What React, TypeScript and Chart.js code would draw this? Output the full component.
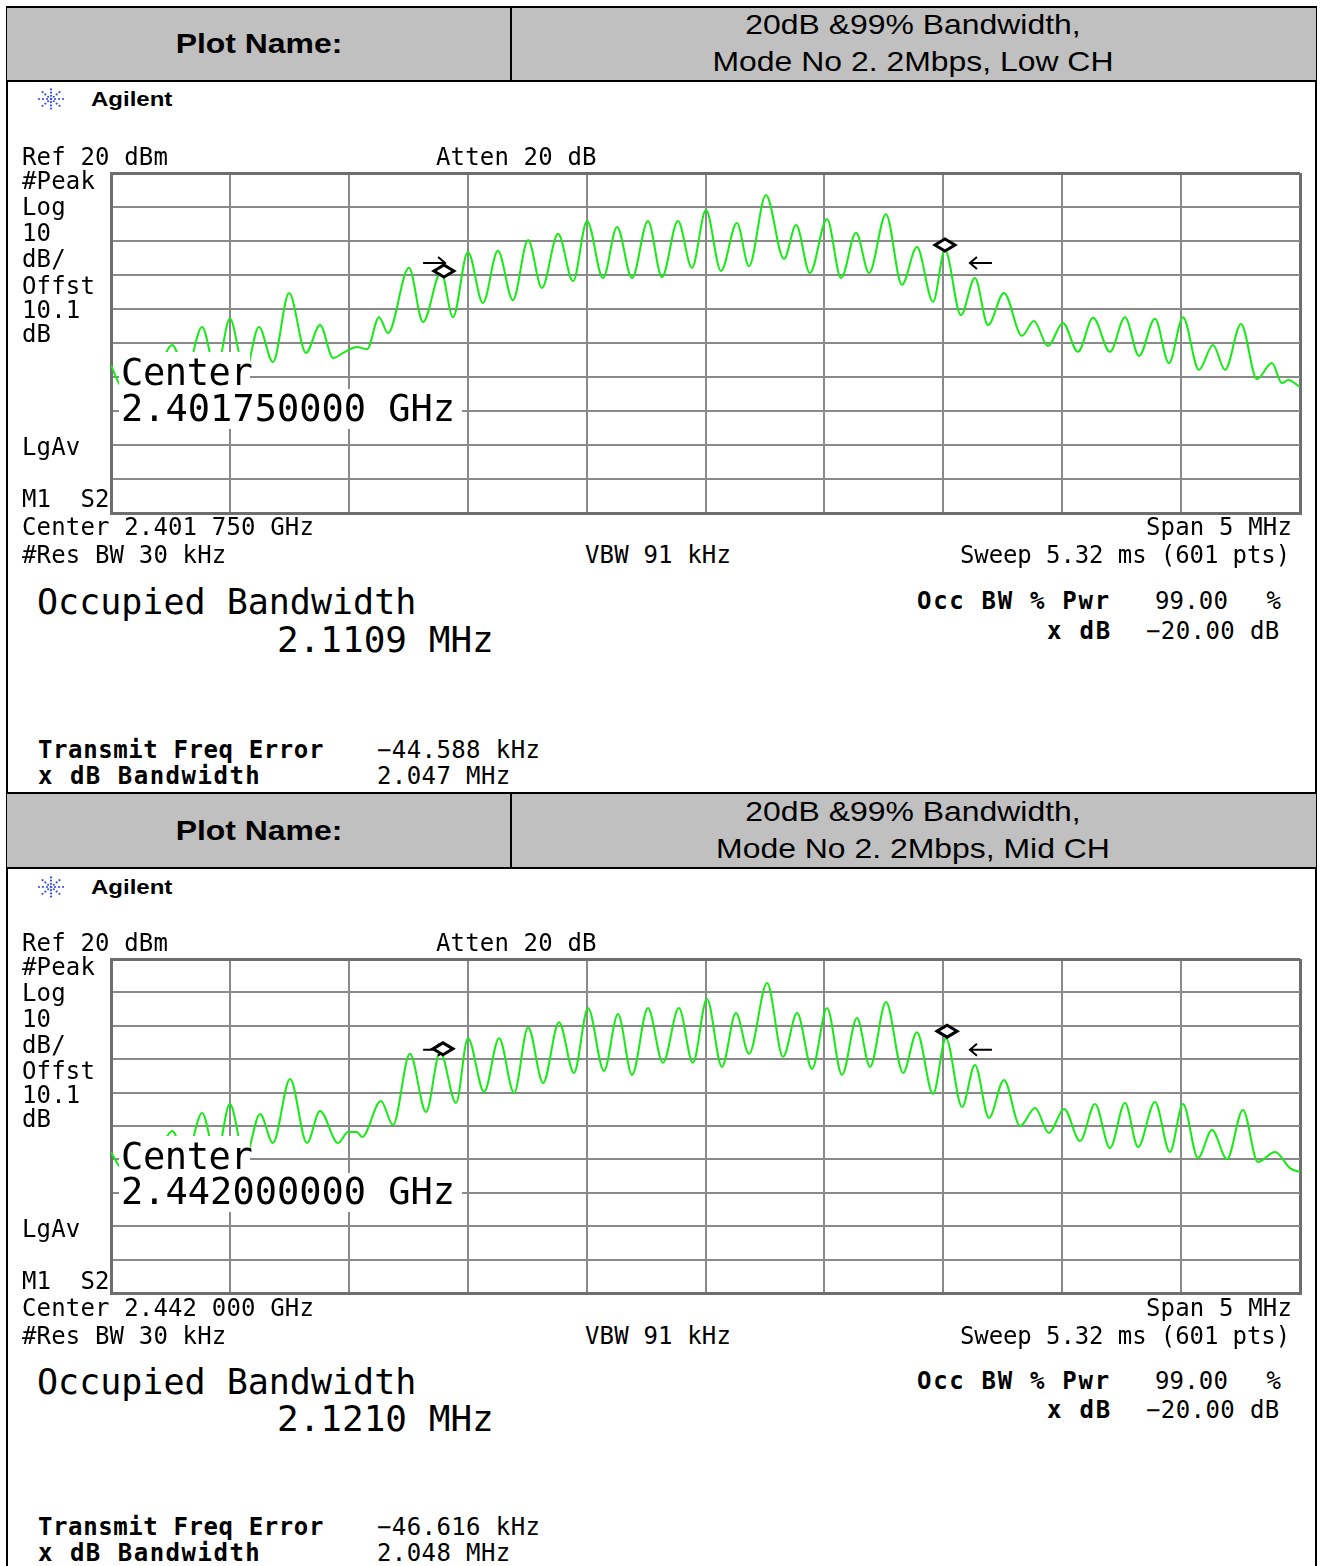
import React, { useEffect, useRef } from 'react';
import { Chart, registerables } from 'chart.js';

Chart.register(...registerables);

// ---------- data (frequency offset from center in MHz, level in dBm) ----------
const spanMHz = [-2.5, 2.5];
const levelRange = [-80, 20];
const freqDivMHz = 0.5;
const levelDivDb = 10;

const lowFreqMHz = [-2.500,-2.462,-2.378,-2.294,-2.243,-2.185,-2.117,-2.058,-2.000,-1.937,-1.878,-1.819,-1.751,-1.680,-1.621,-1.566,-1.516,-1.466,-1.423,-1.373,-1.335,-1.247,-1.188,-1.112,-1.062,-0.999,-0.936,-0.873,-0.810,-0.746,-0.688,-0.620,-0.557,-0.498,-0.431,-0.372,-0.309,-0.242,-0.183,-0.116,-0.057,0.002,0.065,0.132,0.183,0.254,0.330,0.381,0.439,0.511,0.570,0.633,0.688,0.759,0.826,0.889,0.957,1.007,1.074,1.133,1.188,1.255,1.331,1.381,1.440,1.503,1.566,1.630,1.701,1.764,1.823,1.890,1.949,2.008,2.075,2.134,2.185,2.252,2.319,2.382,2.424,2.450,2.500];
const lowLevelDbm = [-36.5,-42.4,-45.3,-36.5,-30.6,-38.5,-25.3,-38.5,-22.9,-38.5,-25.3,-35.6,-15.3,-32.9,-24.7,-34.4,-32.6,-31.2,-31.8,-22.4,-27.1,-7.9,-23.8,-9.1,-22.4,-3.2,-18.2,-2.9,-17.4,0.3,-13.8,2.1,-11.8,5.9,-10.9,4.1,-10.9,5.9,-10.6,5.9,-7.9,9.1,-8.8,5.3,-7.4,13.5,-5.3,4.7,-9.4,6.5,-10.9,2.4,-9.4,7.9,-12.9,-1.8,-17.9,-2.6,-21.8,-10.9,-24.7,-15.3,-27.9,-23.5,-30.9,-24.1,-32.6,-22.6,-32.6,-22.4,-33.8,-22.9,-35.9,-22.4,-37.9,-30.6,-37.9,-24.4,-40.6,-35.9,-41.8,-40.9,-42.9];

const midFreqMHz = [-2.500,-2.462,-2.378,-2.294,-2.243,-2.185,-2.117,-2.058,-2.000,-1.937,-1.873,-1.819,-1.747,-1.676,-1.621,-1.545,-1.503,-1.466,-1.444,-1.365,-1.314,-1.243,-1.175,-1.116,-1.049,-0.999,-0.931,-0.868,-0.805,-0.746,-0.683,-0.616,-0.553,-0.494,-0.427,-0.368,-0.309,-0.242,-0.179,-0.112,-0.053,0.006,0.069,0.128,0.183,0.259,0.326,0.385,0.448,0.511,0.574,0.637,0.692,0.759,0.831,0.889,0.957,1.011,1.079,1.133,1.192,1.255,1.323,1.386,1.444,1.508,1.575,1.638,1.701,1.764,1.819,1.890,1.953,2.008,2.071,2.130,2.193,2.260,2.323,2.395,2.458,2.500];
const midLevelDbm = [-37.8,-42.3,-45.6,-37.2,-31.5,-39.6,-26.1,-39.6,-23.4,-39.6,-26.4,-35.1,-15.9,-35.1,-25.5,-35.1,-31.8,-31.8,-33.3,-22.5,-29.7,-8.4,-25.8,-7.8,-23.1,-3.7,-19.8,-3.7,-20.1,-0.4,-17.1,1.1,-14.1,5.3,-13.5,3.5,-14.7,5.3,-11.1,5.3,-11.1,8.0,-12.3,3.8,-8.4,12.8,-9.3,3.8,-12.9,5.3,-14.7,2.3,-12.3,7.1,-14.1,-1.9,-20.4,-3.7,-24.3,-11.7,-27.6,-16.2,-30.0,-24.6,-32.1,-24.9,-34.5,-23.4,-36.6,-23.1,-36.3,-22.8,-37.8,-23.4,-39.6,-31.2,-39.9,-25.2,-40.8,-37.8,-42.6,-43.8];

const lowMarkerFreqMHz = [-1.100, 1.007];
const lowMarkerLevelDbm = [-8.8, -1.2];
const midMarkerFreqMHz = [-1.104, 1.016];
const midMarkerLevelDbm = [-6.9, -1.6];
const xdbEdgeFreqMHz = [-1.095, 1.112];
const xdbDown = 20;

const lowTitle = ['20dB &99% Bandwidth,', 'Mode No 2. 2Mbps, Low CH'];
const midTitle = ['20dB &99% Bandwidth,', 'Mode No 2. 2Mbps, Mid CH'];
const leftLabels = ['#Peak', 'Log', '10', 'dB/', 'Offst', '10.1', 'dB'];

// ---------- styles ----------
const MONO = '"DejaVu Sans Mono", monospace';
const SANS = '"Liberation Sans", Arial, sans-serif';
const TRACE = '#14ec14';
const GRID = '#8a8a8a';
const EDGE = '#6e6e6e';
const PAD = 6;
const PLOT_LEFT = 111;
const PLOT_RIGHT = 1300;

type TProps = {
  x: number; y: number; s: number; text: string; bold?: boolean; font?: string;
  anchor?: 'left' | 'right' | 'center'; ls?: number; sx?: number; color?: string;
};

function T({ x, y, s, text, bold, font = MONO, anchor = 'left', ls = 0, sx = 1, color = '#000' }: TProps) {
  const style: React.CSSProperties = {
    position: 'absolute',
    top: y - s * 0.49,
    fontSize: s,
    lineHeight: `${s}px`,
    fontFamily: font,
    fontWeight: bold ? 700 : 400,
    whiteSpace: 'pre',
    letterSpacing: ls,
    color,
  };
  if (anchor === 'left') {
    style.left = x;
    style.transform = `scaleX(${sx})`;
    style.transformOrigin = 'left center';
  } else if (anchor === 'right') {
    style.right = 1321 - x;
    style.transform = `scaleX(${sx})`;
    style.transformOrigin = 'right center';
  } else {
    style.left = x;
    style.transform = `translateX(-50%) scaleX(${sx})`;
    style.transformOrigin = 'center center';
  }
  return <div style={style}>{text}</div>;
}

const markerPlugin = {
  id: 'saMarkers',
  afterDatasetsDraw(chart: any, _args: any, opts: any) {
    const { ctx, scales } = chart;
    const xs = scales.x;
    const ys = scales.y;
    const peak = Math.max(...opts.levels);
    const ay = ys.getPixelForValue(peak - opts.down);
    ctx.save();
    ctx.strokeStyle = '#000';
    ctx.lineWidth = 2;
    const lx = xs.getPixelForValue(opts.edges[0]);
    ctx.beginPath();
    ctx.moveTo(lx - 22, ay);
    ctx.lineTo(lx, ay);
    ctx.moveTo(lx - 7, ay - 6);
    ctx.lineTo(lx, ay);
    ctx.lineTo(lx - 7, ay + 6);
    ctx.stroke();
    const rx = xs.getPixelForValue(opts.edges[1]);
    ctx.beginPath();
    ctx.moveTo(rx + 22, ay);
    ctx.lineTo(rx, ay);
    ctx.moveTo(rx + 7, ay - 6);
    ctx.lineTo(rx, ay);
    ctx.lineTo(rx + 7, ay + 6);
    ctx.stroke();
    ctx.lineWidth = 3;
    opts.mf.forEach((f: number, i: number) => {
      const px = xs.getPixelForValue(f);
      const py = ys.getPixelForValue(opts.ml[i]);
      ctx.beginPath();
      ctx.moveTo(px - 10, py);
      ctx.lineTo(px, py - 6);
      ctx.lineTo(px + 10, py);
      ctx.lineTo(px, py + 6);
      ctx.closePath();
      ctx.fillStyle = '#fff';
      ctx.fill();
      ctx.stroke();
    });
    ctx.restore();
  },
};

type TraceProps = {
  freq: number[]; level: number[]; mf: number[]; ml: number[]; top: number; bottom: number;
};

function Trace({ freq, level, mf, ml, top, bottom }: TraceProps) {
  const ref = useRef<HTMLCanvasElement>(null);
  const w = PLOT_RIGHT - PLOT_LEFT + PAD * 2;
  const h = bottom - top + PAD * 2;
  useEffect(() => {
    if (!ref.current) return;
    const edgeWidth = (c: any) => (c.index === 0 || c.index === 10 ? 3 : 2);
    const edgeColor = (c: any) => (c.index === 0 || c.index === 10 ? EDGE : GRID);
    const chart = new Chart(ref.current, {
      type: 'line',
      data: {
        datasets: [
          {
            data: freq.map((f, i) => ({ x: f, y: level[i] })),
            borderColor: TRACE,
            borderWidth: 2,
            pointRadius: 0,
            fill: false,
            cubicInterpolationMode: 'monotone',
          },
        ],
      },
      options: {
        responsive: false,
        maintainAspectRatio: false,
        animation: false,
        events: [],
        layout: { padding: PAD },
        plugins: {
          legend: { display: false },
          tooltip: { enabled: false },
          saMarkers: { mf, ml, levels: level, edges: xdbEdgeFreqMHz, down: xdbDown },
        } as any,
        scales: {
          x: {
            type: 'linear',
            min: spanMHz[0],
            max: spanMHz[1],
            ticks: { display: false, stepSize: freqDivMHz },
            grid: { color: edgeColor, lineWidth: edgeWidth, drawTicks: false },
            border: { display: true, color: EDGE, width: 3 },
          },
          y: {
            type: 'linear',
            min: levelRange[0],
            max: levelRange[1],
            ticks: { display: false, stepSize: levelDivDb },
            grid: { color: edgeColor, lineWidth: edgeWidth, drawTicks: false },
            border: { display: true, color: EDGE, width: 3 },
          },
        },
      },
      plugins: [markerPlugin],
    } as any);
    return () => chart.destroy();
  }, []);
  return (
    <canvas
      ref={ref}
      width={w}
      height={h}
      style={{ position: 'absolute', left: PLOT_LEFT - PAD, top: top - PAD, width: w, height: h }}
    />
  );
}

function AgilentLogo({ x, y }: { x: number; y: number }) {
  const dots: JSX.Element[] = [];
  for (let a = 0; a < 8; a++) {
    const ang = (a * Math.PI) / 4;
    for (let r = 1; r <= 3; r++) {
      dots.push(
        <circle key={`${a}-${r}`} cx={14 + Math.cos(ang) * r * 4} cy={11 + Math.sin(ang) * r * 3.2} r={1.1} fill="#3b4fe0" />
      );
    }
  }
  dots.push(<circle key="c" cx={14} cy={11} r={1.3} fill="#3b4fe0" />);
  return (
    <svg width={28} height={22} style={{ position: 'absolute', left: x - 14, top: y - 11 }}>
      {dots}
    </svg>
  );
}

type Layout = {
  hTop: number; hBot: number; t1: number; t2: number; pn: number; ag: number; ref: number;
  left: number[]; lgav: number; m1: number; pTop: number; pBot: number;
  cTop: number; cMid: number; cBot: number; cY: number; nY: number;
  cl: number; res: number; occ: number; occV: number; pwr: number; xdb: number; tfe: number; xbw: number;
};

function Panel({ L, title, centerBig, centerLine, occVal, freqErr, xdbBw, freq, level, mf, ml }: {
  L: Layout; title: string[]; centerBig: string; centerLine: string; occVal: string; freqErr: string; xdbBw: string;
  freq: number[]; level: number[]; mf: number[]; ml: number[];
}) {
  const small = 24;
  const ls = 0.15;
  return (
    <>
      <div style={{ position: 'absolute', left: 7, top: L.hTop, width: 1309, height: L.hBot - L.hTop, background: '#c0c0c0', borderTop: '2px solid #000', borderBottom: '2px solid #000', boxSizing: 'border-box' }} />
      <div style={{ position: 'absolute', left: 510, top: L.hTop, width: 2, height: L.hBot - L.hTop, background: '#000' }} />
      <T x={259} y={L.pn} s={28} text="Plot Name:" bold font={SANS} anchor="center" sx={1.14} />
      <T x={913} y={L.t1} s={28} text={title[0]} font={SANS} anchor="center" sx={1.14} />
      <T x={913} y={L.t2} s={28} text={title[1]} font={SANS} anchor="center" sx={1.14} />

      <AgilentLogo x={51} y={L.ag} />
      <T x={91} y={L.ag} s={20} text="Agilent" bold font={SANS} sx={1.2} />

      <Trace freq={freq} level={level} mf={mf} ml={ml} top={L.pTop} bottom={L.pBot} />

      <T x={22} y={L.ref} s={small} text="Ref 20 dBm" ls={ls} />
      <T x={436} y={L.ref} s={small} text="Atten 20 dB" ls={ls} />
      {leftLabels.map((t, i) => (
        <T key={t + i} x={22} y={L.left[i]} s={small} text={t} ls={ls} />
      ))}
      <T x={22} y={L.lgav} s={small} text="LgAv" ls={ls} />
      <T x={22} y={L.m1} s={small} text="M1  S2" ls={ls} />

      <div style={{ position: 'absolute', left: 119, top: L.cTop, width: 131, height: L.cMid - L.cTop, background: '#fff' }} />
      <div style={{ position: 'absolute', left: 119, top: L.cMid, width: 343, height: L.cBot - L.cMid, background: '#fff' }} />
      <T x={121} y={L.cY} s={37} text="Center" ls={-0.4} />
      <T x={121} y={L.nY} s={37} text={centerBig} />

      <T x={22} y={L.cl} s={small} text={centerLine} ls={ls} />
      <T x={1292} y={L.cl} s={small} text="Span 5 MHz" ls={ls} anchor="right" />
      <T x={22} y={L.res} s={small} text="#Res BW 30 kHz" ls={ls} />
      <T x={585} y={L.res} s={small} text="VBW 91 kHz" ls={ls} />
      <T x={1290} y={L.res} s={small} text="Sweep 5.32 ms (601 pts)" ls={-0.1} anchor="right" />

      <T x={37} y={L.occ} s={35} text="Occupied Bandwidth" />
      <T x={277} y={L.occV} s={36} text={occVal} />

      <T x={917} y={L.pwr} s={small} text="Occ BW % Pwr" bold ls={1.7} />
      <T x={1155} y={L.pwr} s={small} text="99.00" ls={ls} />
      <T x={1281} y={L.pwr} s={small} text="%" anchor="right" />
      <T x={1112} y={L.xdb} s={small} text="x dB" bold anchor="right" ls={1.8} />
      <T x={1146} y={L.xdb} s={small} text={'\u221220.00 dB'} ls={0.4} />

      <T x={38} y={L.tfe} s={small} text="Transmit Freq Error" bold ls={0.6} />
      <T x={377} y={L.tfe} s={small} text={freqErr} ls={0.4} />
      <T x={38} y={L.xbw} s={small} text="x dB Bandwidth" bold ls={1.5} />
      <T x={377} y={L.xbw} s={small} text={xdbBw} ls={0.4} />
    </>
  );
}

const lowLayout: Layout = {
  hTop: 6, hBot: 82, t1: 25, t2: 62, pn: 44, ag: 99, ref: 157,
  left: [181, 207, 233, 259, 286, 310, 334], lgav: 447, m1: 499, pTop: 173, pBot: 513,
  cTop: 352, cMid: 389, cBot: 429, cY: 372, nY: 408,
  cl: 527, res: 555, occ: 602, occV: 640, pwr: 601, xdb: 631, tfe: 750, xbw: 776,
};
const midLayout: Layout = {
  hTop: 792, hBot: 869, t1: 812, t2: 849, pn: 831, ag: 887, ref: 943,
  left: [967, 993, 1019, 1045, 1071, 1095, 1119], lgav: 1229, m1: 1281, pTop: 959, pBot: 1293,
  cTop: 1136, cMid: 1173, cBot: 1212, cY: 1156, nY: 1191,
  cl: 1308, res: 1336, occ: 1382, occV: 1419, pwr: 1381, xdb: 1410, tfe: 1527, xbw: 1553,
};

export default function App() {
  return (
    <div style={{ position: 'absolute', left: 0, top: 0, width: 1321, height: 1566, background: '#fff', overflow: 'hidden' }}>
      <div style={{ position: 'absolute', left: 6, top: 6, width: 2, height: 1560, background: '#000' }} />
      <div style={{ position: 'absolute', left: 1315, top: 6, width: 2, height: 1560, background: '#000' }} />
      <Panel
        L={lowLayout} title={lowTitle} centerBig="2.401750000 GHz" centerLine="Center 2.401 750 GHz"
        occVal="2.1109 MHz" freqErr={'\u221244.588 kHz'} xdbBw="2.047 MHz"
        freq={lowFreqMHz} level={lowLevelDbm} mf={lowMarkerFreqMHz} ml={lowMarkerLevelDbm}
      />
      <Panel
        L={midLayout} title={midTitle} centerBig="2.442000000 GHz" centerLine="Center 2.442 000 GHz"
        occVal="2.1210 MHz" freqErr={'\u221246.616 kHz'} xdbBw="2.048 MHz"
        freq={midFreqMHz} level={midLevelDbm} mf={midMarkerFreqMHz} ml={midMarkerLevelDbm}
      />
    </div>
  );
}
